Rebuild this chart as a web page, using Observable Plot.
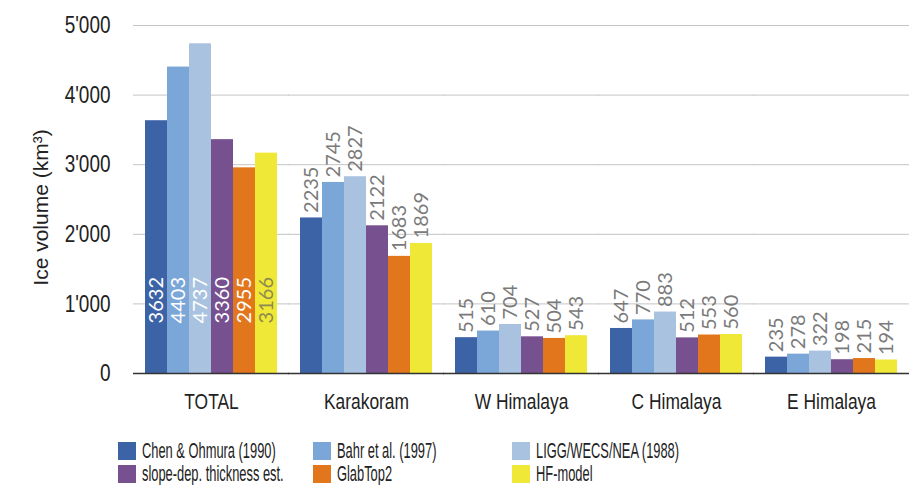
<!DOCTYPE html>
<html><head><meta charset="utf-8">
<script src="https://cdn.jsdelivr.net/npm/d3@7"></script>
<script src="https://cdn.jsdelivr.net/npm/@observablehq/plot@0.6"></script>
<style>
body{margin:0;background:#fff;}
#legend{display:grid;grid-template-columns:195px 199px 220px;padding-left:118px;margin-top:14px;
  font-family:'Liberation Sans',Arial,sans-serif;font-size:22px;color:#222;}
.item{height:23px;display:flex;align-items:center;white-space:nowrap;}
.sw{width:18px;height:18px;margin-right:6px;flex:none;}
.lt{display:inline-block;transform:scaleX(0.585);transform-origin:left center;}
</style></head><body><div id="chart"></div><div id="legend"></div>
<script>
const regions = ["TOTAL", "Karakoram", "W Himalaya", "C Himalaya", "E Himalaya"];
const series = ["Chen & Ohmura (1990)", "Bahr et al. (1997)", "LIGG/WECS/NEA (1988)", "slope-dep. thickness est.", "GlabTop2", "HF-model"];
const chen  = [3632, 2235, 515, 647, 235];
const bahr  = [4403, 2745, 610, 770, 278];
const ligg  = [4737, 2827, 704, 883, 322];
const slope = [3360, 2122, 527, 512, 198];
const glab  = [2955, 1683, 504, 553, 215];
const hf    = [3166, 1869, 543, 560, 194];
const colors = ["#3d63a7", "#7ba6d8", "#a9c2e0", "#76508f", "#e2761c", "#f0e836"];
const yTicks = [0, 1000, 2000, 3000, 4000, 5000];
const tickLabels = ["0", "1'000", "2'000", "3'000", "4'000", "5'000"];

const seriesValues = [chen, bahr, ligg, slope, glab, hf];
const data = [];
series.forEach((s, i) => regions.forEach((r, j) => data.push({series: s, region: r, value: seriesValues[i][j]})));

const ext = -10;
const chart = Plot.plot({
  width: 917, height: 425,
  marginLeft: 133, marginRight: 7, marginTop: 25, marginBottom: 52,
  style: {background: "#fff", color: "#222", fontFamily: "'Liberation Sans',Arial,sans-serif"},
  fx: {domain: regions, paddingInner: 0.12, paddingOuter: 0.06, label: null},
  x: {domain: series, padding: 0, axis: null},
  y: {domain: [0, 5000]},
  color: {domain: series, range: colors},
  marks: [
    Plot.ruleY(yTicks.slice(1), {stroke: "#c4c4c4", strokeWidth: 1, insetLeft: ext, insetRight: ext}),
    Plot.barY(data, {fx: "region", x: "series", y: "value", fill: "series"}),
    Plot.ruleY([0], {stroke: "#333", strokeWidth: 1.5, insetLeft: ext, insetRight: ext}),
    Plot.text(data.filter(d => d.region !== "TOTAL"), {
      fx: "region", x: "series", y: "value", text: d => String(d.value),
      rotate: -90, textAnchor: "start", dy: -5, fill: "#7a7a7a", fontSize: 20, fontFamily: "Lato"
    }),
    Plot.text(data.filter(d => d.region === "TOTAL"), {
      fx: "region", x: "series", y: 720, text: d => String(d.value),
      rotate: -90, textAnchor: "start", fill: d => d.series === "HF-model" ? "#8c8a50" : "#ffffff",
      fontSize: 20, fontFamily: "Lato"
    }),
    Plot.axisY({ticks: yTicks, tickFormat: d => tickLabels[yTicks.indexOf(d)], tickSize: 0, tickPadding: 33,
      fontSize: 24, label: null}),
    Plot.axisY({ticks: [], label: "Ice volume (km³)", labelAnchor: "center", labelArrow: "none", labelOffset: 110,
      fontSize: 21}),
    Plot.axisFx({anchor: "bottom", tickSize: 0, tickPadding: 20, fontSize: 22, label: null})
  ]
});
document.getElementById("chart").appendChild(chart);

// condense the axis tick labels like the reference's narrow typeface, keeping their anchors
chart.querySelectorAll('g[aria-label="y-axis tick label"] text, g[aria-label="fx-axis tick label"] text').forEach(t => {
  const w = t.getComputedTextLength();
  t.setAttribute("textLength", (w * 0.79).toFixed(1));
  t.setAttribute("lengthAdjust", "spacingAndGlyphs");
});
// the reference's axis title sits slightly below the plot's vertical centre
const yl = chart.querySelector('g[aria-label="y-axis label"]');
if (yl) yl.setAttribute("transform", ((yl.getAttribute("transform") || "") + " translate(0,8)").trim());
</script>
<script>
const legend = document.getElementById("legend");
series.forEach((s, i) => {
  const it = document.createElement("div");
  it.className = "item";
  const sw = document.createElement("span");
  sw.className = "sw"; sw.style.background = colors[i];
  const lt = document.createElement("span");
  lt.className = "lt"; lt.textContent = s;
  it.appendChild(sw); it.appendChild(lt);
  legend.appendChild(it);
});
</script>
</body></html>
